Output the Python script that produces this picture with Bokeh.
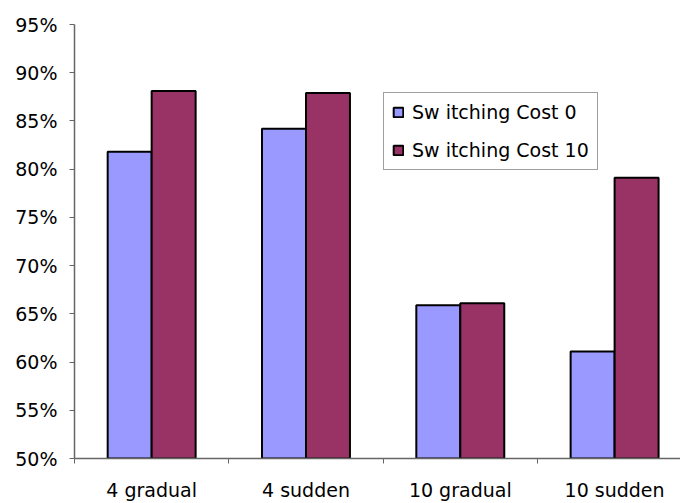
import numpy as np
from bokeh.plotting import figure
from bokeh.models import Range1d, FixedTicker, NumeralTickFormatter, Legend, LegendItem
from bokeh.embed import file_html
from bokeh.resources import INLINE

# ---- data ----
categories = ["4 gradual", "4 sudden", "10 gradual", "10 sudden"]
series_names = ["Sw itching Cost 0", "Sw itching Cost 10"]
cost0 = [0.818, 0.842, 0.659, 0.611]
cost10 = [0.881, 0.879, 0.661, 0.791]
y_ticks = [0.50, 0.55, 0.60, 0.65, 0.70, 0.75, 0.80, 0.85, 0.90, 0.95]

# ---- styles ----
FONT = "DejaVu Sans"
FS = "19px"
C0 = "#9999FF"
C1 = "#993366"
AXIS_C = "#666666"
bar_w = 0.285

idx = np.arange(len(categories))
centers = idx + 0.5
x0 = centers - bar_w / 2
x1 = centers + bar_w / 2

p = figure(width=680, height=503, output_backend="svg", toolbar_location=None,
           x_range=Range1d(0, 3.927), y_range=Range1d(y_ticks[0], y_ticks[-1]),
           min_border_left=74, min_border_right=0, min_border_top=24, min_border_bottom=43)
p.outline_line_color = None
p.xgrid.visible = False
p.ygrid.visible = False
p.background_fill_color = "white"
p.border_fill_color = "white"

r0 = p.vbar(x=x0, top=cost0, bottom=y_ticks[0], width=bar_w,
            fill_color=C0, line_color="black", line_width=2)
r1 = p.vbar(x=x1, top=cost10, bottom=y_ticks[0], width=bar_w,
            fill_color=C1, line_color="black", line_width=2)

# x axis: labels at category centres, ticks between categories
xa = p.xaxis[0]
xa.ticker = FixedTicker(ticks=list(centers), minor_ticks=list(idx.astype(float)))
xa.major_label_overrides = {float(c): lab for c, lab in zip(centers, categories)}
xa.major_tick_line_color = None
xa.minor_tick_line_color = AXIS_C
xa.minor_tick_out = 5
xa.minor_tick_in = 0
xa.axis_line_color = AXIS_C
xa.axis_line_width = 1.5
xa.major_label_standoff = 14
xa.major_label_text_font = FONT
xa.major_label_text_font_size = FS
xa.major_label_text_color = "black"

ya = p.yaxis[0]
ya.ticker = FixedTicker(ticks=y_ticks, minor_ticks=[])
ya.formatter = NumeralTickFormatter(format="0%")
ya.major_tick_out = 5
ya.major_tick_in = 0
ya.major_tick_line_color = AXIS_C
ya.minor_tick_line_color = None
ya.axis_line_color = AXIS_C
ya.axis_line_width = 1.5
ya.major_label_standoff = 12
ya.major_label_text_font = FONT
ya.major_label_text_font_size = FS
ya.major_label_text_color = "black"

legend = Legend(items=[LegendItem(label=series_names[0], renderers=[r0]),
                       LegendItem(label=series_names[1], renderers=[r1])],
                location=(309, 288))
legend.label_text_font = FONT
legend.label_text_font_size = FS
legend.label_text_color = "black"
legend.glyph_width = 12
legend.glyph_height = 12
legend.label_standoff = 8
legend.padding = 8
legend.spacing = 16
legend.margin = 0
legend.border_line_color = "#404040"
legend.border_line_width = 1
legend.background_fill_color = "white"
legend.background_fill_alpha = 1.0
p.add_layout(legend)

open("out.html", "w").write(file_html(p, INLINE))
